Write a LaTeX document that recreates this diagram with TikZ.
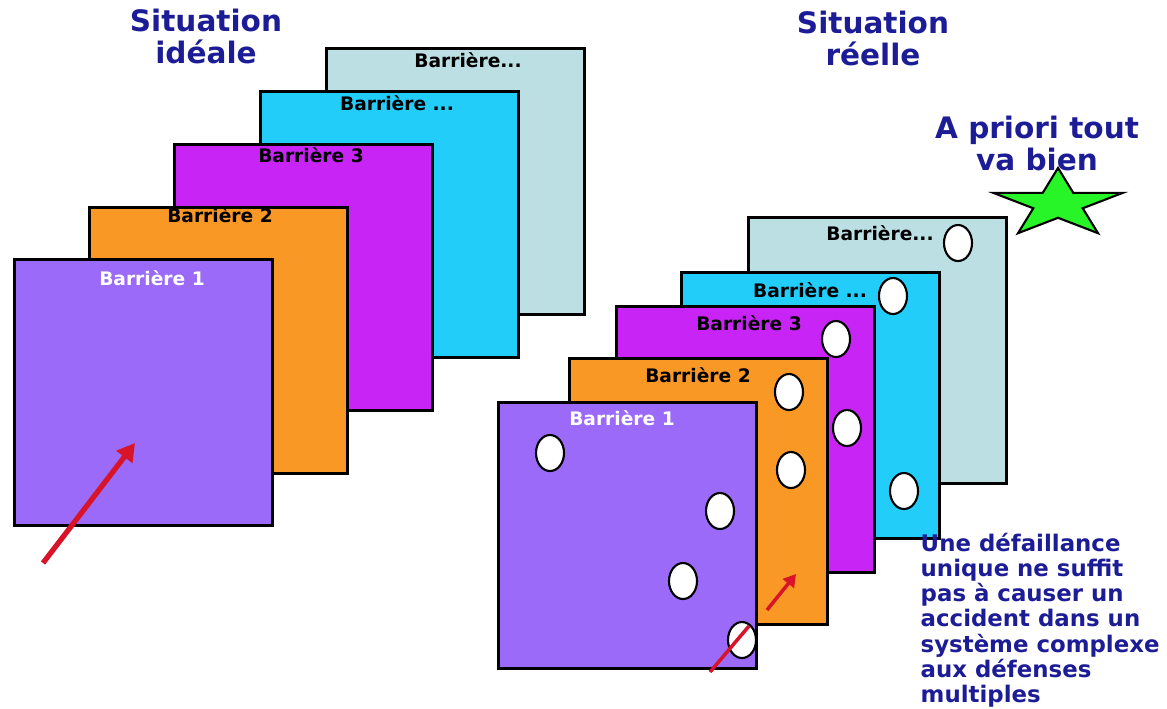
\documentclass[tikz,border=0pt]{standalone}
\usepackage{fontspec}
\setmainfont{DejaVu Sans}
\usetikzlibrary{arrows.meta}
\usetikzlibrary{shapes.geometric}
\definecolor{sheetpale}{RGB}{188,223,227}
\definecolor{sheetsky}{RGB}{35,205,250}
\definecolor{sheetmagenta}{RGB}{200,36,245}
\definecolor{sheetorange}{RGB}{250,152,38}
\definecolor{sheetpurple}{RGB}{155,106,248}
\definecolor{titleblue}{RGB}{28,28,150}
\definecolor{arrowred}{RGB}{215,20,40}
\definecolor{stargreen}{RGB}{40,245,40}

\begin{document}
\begin{tikzpicture}[x=0.01cm, y=-0.01cm,
    sheet/.style = {draw, line width=0.8pt, anchor=north west, inner sep=0, minimum width=2.58cm, minimum height=2.66cm},
    tag/.style = {font=\fontsize{5.3}{6}\selectfont\bfseries, inner sep=0},
    hole/.style = {ellipse, draw, line width=0.6pt, fill=white, inner sep=0, minimum width=0.28cm, minimum height=0.36cm},
    heading/.style = {font=\fontsize{8.4}{9.2}\selectfont\bfseries, text=titleblue, align=center, anchor=north, inner sep=0}]
	\useasboundingbox (0,0) rectangle (1167,708);
	% situation ideale
	\node[heading] (idealT) at (206,8) {Situation\\id\'eale};
	\begin{scope}
		\node[sheet, fill=sheetpale] (I5) at (325,47) {};
		\node[sheet, fill=sheetsky] (I4) at (259,90) {};
		\node[sheet, fill=sheetmagenta] (I3) at (173,143) {};
		\node[sheet, fill=sheetorange] (I2) at (88,206) {};
		\node[sheet, fill=sheetpurple] (I1) at (13,258) {};
	\end{scope}
	\node[tag] (IL5) at (468,60) {Barri\`ere...};
	\node[tag] (IL4) at (397,103) {Barri\`ere ...};
	\node[tag] (IL3) at (311,155) {Barri\`ere 3};
	\node[tag] (IL2) at (220,215) {Barri\`ere 2};
	\node[tag, text=white] (IL1) at (152,278) {Barri\`ere 1};
	\coordinate (a0) at (43,563);
	\coordinate (a1) at (135,443);
	\draw [arrowred, line width=1.5pt, -{Triangle[length=5pt,width=5.5pt]}] (a0) -- (a1);
	% situation reelle
	\node[heading] (realT) at (873,10) {Situation\\r\'eelle};
	\node[heading] (okT) at (1037,115) {A priori tout\\va bien};
	\node[star, star points=5, star point ratio=2.618, draw, line width=0.6pt, fill=stargreen, minimum size=1.36cm, inner sep=0, yscale=0.53] (ok) at (1058,204) {};
	\begin{scope}
		\node[sheet, fill=sheetpale] (R5) at (747,216) {};
		\node[sheet, fill=sheetsky] (R4) at (680,271) {};
		\node[sheet, fill=sheetmagenta] (R3) at (615,305) {};
		\node[sheet, fill=sheetorange] (R2) at (568,357) {};
		\node[sheet, fill=sheetpurple] (R1) at (497,401) {};
	\end{scope}
	\node[tag] (RL5) at (880,233) {Barri\`ere...};
	\node[tag] (RL4) at (810,290) {Barri\`ere ...};
	\node[tag] (RL3) at (749,323) {Barri\`ere 3};
	\node[tag] (RL2) at (698,375) {Barri\`ere 2};
	\node[tag, text=white] (RL1) at (622,418) {Barri\`ere 1};
	\foreach \hx/\hy [count=\i] in {958/243, 893/296, 836/339, 789/392, 847/428, 791/470, 904/491, 550/453, 720/511, 683/581, 742/640}
		\node[hole] (h\i) at (\hx,\hy) {};
	\coordinate (b0) at (767,610);
	\coordinate (b1) at (796,574);
	\coordinate (c0) at (710,672);
	\coordinate (c1) at (749,626);
	\draw [arrowred, line width=1pt, -{Triangle[length=3.5pt,width=4pt]}] (b0) -- (b1);
	\draw [arrowred, line width=1pt] (c0) -- (c1);
	\node[anchor=north west, inner sep=0, align=left, text=titleblue, font=\fontsize{6.5}{7.2}\selectfont\bfseries] (note) at (920,532) {Une d\'efaillance\\unique ne suffit\\pas \`a causer un\\accident dans un\\syst\`eme complexe\\aux d\'efenses\\multiples};
\end{tikzpicture}
\end{document}
